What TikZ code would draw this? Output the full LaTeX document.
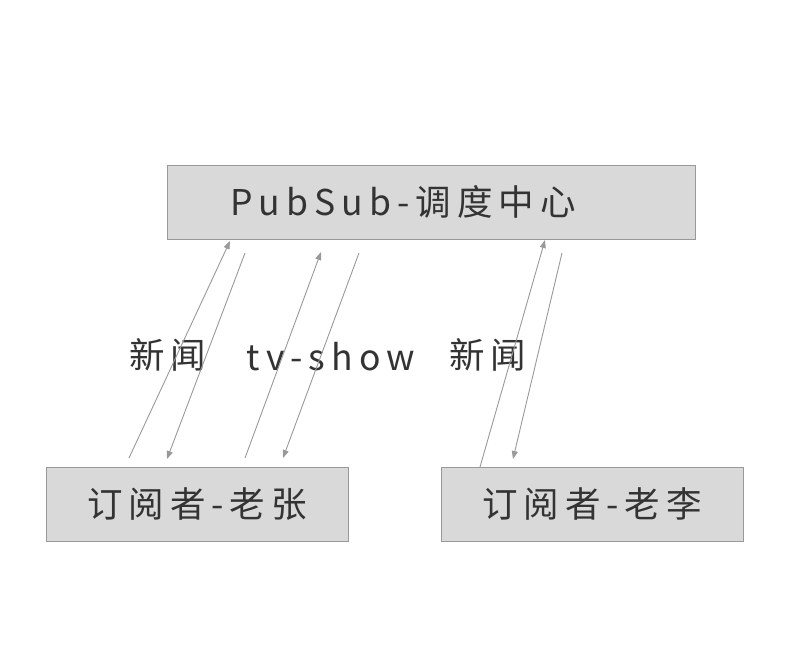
\documentclass[tikz,border=0pt]{standalone}
\usepackage{fontspec}
\setmainfont{Noto Sans CJK SC}[LetterSpace=17]
\usetikzlibrary{arrows.meta}
\definecolor{boxfill}{HTML}{D9D9D9}
\definecolor{boxline}{HTML}{999999}
\definecolor{arrline}{HTML}{999999}
\definecolor{txt}{HTML}{333333}
\tikzset{
  box/.style={draw=boxline, fill=boxfill, line width=1pt, inner sep=0pt},
  lbl/.style={text=txt, inner sep=0pt, font=\fontsize{35.5}{40}\selectfont},
  conn/.style={draw=arrline, line width=0.9pt, -{Triangle[length=8pt,width=6pt]}}
}
\begin{document}
\begin{tikzpicture}[x=1pt,y=-1pt]
\useasboundingbox (0,0) rectangle (798,662);
% boxes
\node[box, minimum width=528pt, minimum height=74pt] (hub) at (431,202) {};
\node[box, minimum width=302pt, minimum height=74pt, lbl] (zhang) at (197,504) {订阅者-老张};
\node[box, minimum width=302pt, minimum height=74pt, lbl] (li) at (592,504) {订阅者-老李};
\node[lbl] (hubtext) at (403,202) {PubSub-调度中心};
% labels
\node[lbl] (l1) at (168,355) {新闻};
\node[lbl] (l2) at (331,357) {tv-show};
\node[lbl] (l3) at (488,355) {新闻};
% connector end points
\coordinate (a1s) at (129,458); \coordinate (a1e) at (230,241);
\coordinate (a2s) at (245,253); \coordinate (a2e) at (167,459);
\coordinate (a3s) at (245,458); \coordinate (a3e) at (321,252);
\coordinate (a4s) at (359,253); \coordinate (a4e) at (283,458);
\coordinate (a5s) at (480,467); \coordinate (a5e) at (545,240);
\coordinate (a6s) at (562,253); \coordinate (a6e) at (513,459);
\draw[conn] (a1s) -- (a1e);
\draw[conn] (a2s) -- (a2e);
\draw[conn] (a3s) -- (a3e);
\draw[conn] (a4s) -- (a4e);
\draw[conn] (a5s) -- (a5e);
\draw[conn] (a6s) -- (a6e);
\end{tikzpicture}
\end{document}
